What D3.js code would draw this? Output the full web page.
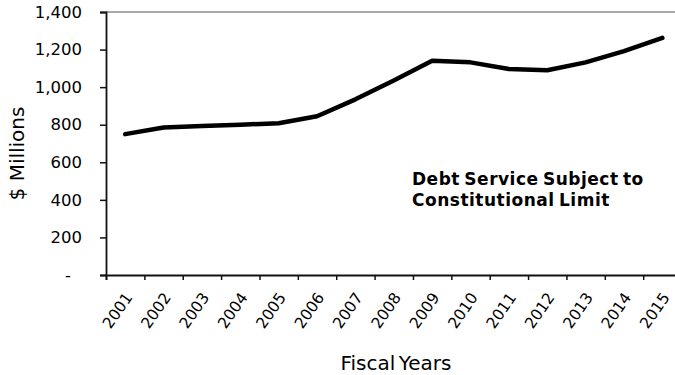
<!DOCTYPE html>
<html>
<head>
<meta charset="utf-8">
<script src="https://cdn.jsdelivr.net/npm/d3@7"></script>
<style>
  body { margin: 0; background: #fff; }
  svg { display: block; font-family: "DejaVu Sans", Verdana, sans-serif; }
</style>
</head>
<body>
<div id="chart"></div>
<script>
// chart data
const years = ["2001","2002","2003","2004","2005","2006","2007","2008","2009","2010","2011","2012","2013","2014","2015"];
const debtService = [750, 785, 793, 800, 808, 845, 935, 1035, 1140, 1132, 1097, 1090, 1132, 1192, 1262];
const yTicks = [0, 200, 400, 600, 800, 1000, 1200, 1400];

const width = 675, height = 375;
const margin = {top: 12, left: 106, bottom: 100};
const bandW = 38.37;

const svg = d3.select("#chart")
  .append("svg")
  .attr("width", width)
  .attr("height", height);

// x goes by category slot, boundaries at integers
const xScale = d3.scaleLinear()
  .domain([0, years.length])
  .range([margin.left, margin.left + years.length * bandW]);

const yScale = d3.scaleLinear()
  .domain([0, 1400])
  .range([height - margin.bottom, margin.top]);

const y0 = yScale(0);

// top border
svg.append("line")
  .attr("x1", margin.left).attr("x2", width)
  .attr("y1", yScale(1400)).attr("y2", yScale(1400))
  .attr("stroke", "#8c8c8c")
  .attr("stroke-width", 1.5);

// y axis
const yAxis = svg.append("g")
  .attr("transform", `translate(${margin.left},0)`)
  .call(d3.axisLeft(yScale)
    .tickValues(yTicks)
    .tickSize(6)
    .tickPadding(18)
    .tickFormat(d => d === 0 ? "-" : d3.format(",")(d)));
yAxis.select(".domain").attr("stroke", "#111").attr("stroke-width", 1.8);
yAxis.selectAll(".tick line").attr("stroke", "#111").attr("stroke-width", 1.5);
yAxis.selectAll("text")
  .attr("font-size", "16.5px")
  .attr("fill", "#000")
  .attr("font-family", "DejaVu Sans, sans-serif");
yAxis.selectAll(".tick").filter(d => d === 0).select("text").attr("dx", -11);

// x axis, ticks on category boundaries
const xAxis = svg.append("g")
  .attr("transform", `translate(0,${y0})`)
  .call(d3.axisBottom(xScale)
    .tickValues(d3.range(years.length + 1))
    .tickSize(5)
    .tickFormat(""));
xAxis.select(".domain").attr("stroke", "#111").attr("stroke-width", 1.8);
xAxis.selectAll(".tick line").attr("stroke", "#111").attr("stroke-width", 1.5);

// rotated year labels
svg.append("g")
  .selectAll("text")
  .data(years)
  .enter()
  .append("text")
    .attr("transform", (d, i) => `translate(${xScale(i + 0.5) + 8},${y0 + 22.5}) rotate(-55)`)
    .attr("text-anchor", "end")
    .attr("font-size", "15.5px")
    .text(d => d);

// the line
const line = d3.line()
  .x((d, i) => xScale(i + 0.5))
  .y(d => yScale(d));

svg.append("path")
  .datum(debtService)
  .attr("fill", "none")
  .attr("stroke", "#000")
  .attr("stroke-width", 4.5)
  .attr("stroke-linejoin", "round")
  .attr("stroke-linecap", "round")
  .attr("d", line);

// axis titles
svg.append("text")
  .attr("transform", "translate(23.5,153.5) rotate(-90)")
  .attr("text-anchor", "middle")
  .attr("font-size", "20px")
  .text("$ Millions");

svg.append("text")
  .attr("x", 396)
  .attr("y", 370)
  .attr("text-anchor", "middle")
  .attr("font-size", "20px")
  .attr("word-spacing", "-3px")
  .text("Fiscal Years");

// annotation
const note = svg.append("text")
  .attr("font-size", "17px")
  .attr("font-weight", "bold")
  .attr("letter-spacing", "0.5px")
  .attr("word-spacing", "-2px");
note.append("tspan").attr("x", 412).attr("y", 185).text("Debt Service Subject to");
note.append("tspan").attr("x", 412).attr("y", 206).text("Constitutional Limit");
</script>
</body>
</html>
